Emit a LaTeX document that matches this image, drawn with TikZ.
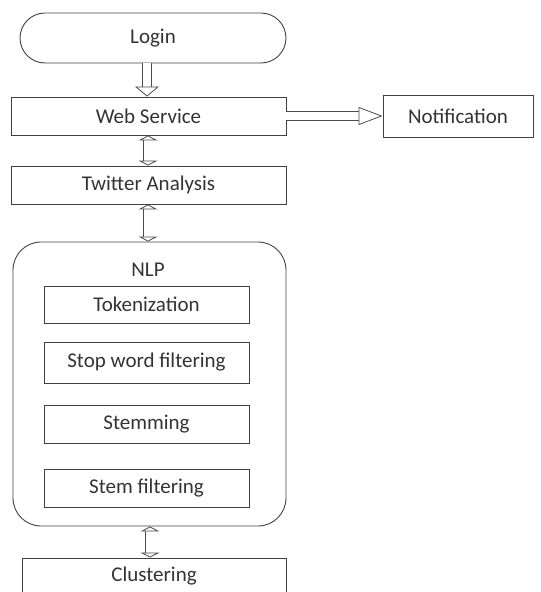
\documentclass[tikz,border=0pt]{standalone}
\usepackage{fontspec}
\setmainfont{Carlito}
\usetikzlibrary{arrows.meta}

\begin{document}
\begin{tikzpicture}[x=1pt,y=-1pt,
    box/.style={draw=black!75, line width=0.9pt, rectangle, inner sep=0pt,
        font=\fontsize{21}{24}\selectfont, text=black!80},
    hollow/.style={double, draw=black!70, line width=0.8pt, double distance=8pt,
        -{Triangle[open, length=10pt, width=24pt]}},
    hollowboth/.style={double, draw=black!70, line width=0.8pt, double distance=9pt,
        {Triangle[open, length=5pt, width=19pt]}-{Triangle[open, length=5pt, width=19pt]}}]
    % Rahmen
    \useasboundingbox (0,0) rectangle (541,592);
    \clip (0,0) rectangle (541,592);
    % Knoten
    \node[box, rounded corners=25pt, minimum width=266pt, minimum height=50pt] (login) at (153,38) {Login};
    \node[box, minimum width=275pt, minimum height=38pt] (web) at (148.5,116) {Web Service};
    \node[box, minimum width=150pt, minimum height=42pt] (notif) at (458,116) {Notification};
    \node[box, minimum width=275pt, minimum height=38pt] (twitter) at (148.5,185) {Twitter Analysis};
    \node[box, rounded corners=28pt, minimum width=273pt, minimum height=284pt] (nlp) at (149.5,384) {};
    \node[box, draw=none] (nlplabel) at (148,270) {NLP};
    \node[box, minimum width=205pt, minimum height=37pt] (token) at (146.5,304.5) {Tokenization};
    \node[box, minimum width=205pt, minimum height=41pt] (stopword) at (146.5,362.5) {Stop word filtering};
    \node[box, minimum width=205pt, minimum height=38pt] (stem) at (146.5,424) {Stemming};
    \node[box, minimum width=205pt, minimum height=38pt] (stemfilter) at (146.5,488) {Stem filtering};
    \node[box, minimum width=264pt, minimum height=40pt, text depth=8pt] (cluster) at (154,578) {Clustering};
    % Pfeile
    \draw[hollow] (login.south -| 147,0) -- (web.north -| 147,0);
    \draw[hollow, double distance=8pt, -{Triangle[open, length=24pt, width=18pt]}] (web.east) -- (notif.west);
    \draw[hollowboth] (web.south -| 148,0) -- (twitter.north -| 148,0);
    \draw[hollowboth] (twitter.south -| 148,0) -- (nlp.north -| 148,0);
    \draw[hollowboth] (nlp.south -| 150,0) -- (cluster.north -| 150,0);
\end{tikzpicture}
\end{document}
